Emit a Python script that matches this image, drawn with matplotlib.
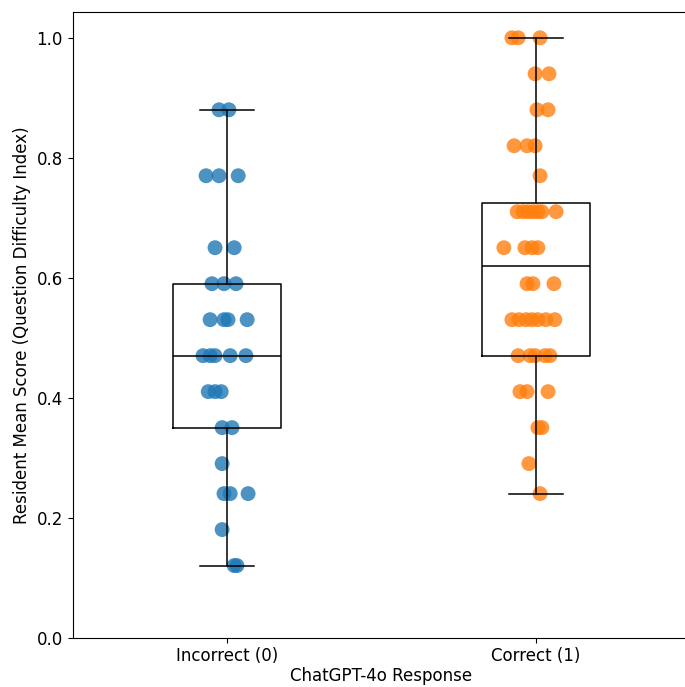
import matplotlib
matplotlib.use("Agg")
import numpy as np
import matplotlib.pyplot as plt

# ---- data ----
categories = ["Incorrect (0)", "Correct (1)"]

incorrect_scores = [0.88, 0.88,
                    0.77, 0.77, 0.77,
                    0.65, 0.65,
                    0.59, 0.59, 0.59,
                    0.53, 0.53, 0.53, 0.53,
                    0.47, 0.47, 0.47, 0.47, 0.47,
                    0.41, 0.41, 0.41,
                    0.35, 0.35,
                    0.29,
                    0.24, 0.24, 0.24,
                    0.18,
                    0.12, 0.12]
# horizontal jitter of each point (category units)
incorrect_jitter = [-0.026, 0.006,
                    -0.068, -0.026, 0.036,
                    -0.039, 0.023,
                    -0.049, -0.010, 0.029,
                    -0.055, -0.010, 0.003, 0.065,
                    -0.078, -0.055, -0.039, 0.010, 0.061,
                    -0.061, -0.039, -0.019,
                    -0.016, 0.016,
                    -0.016,
                    -0.010, 0.010, 0.068,
                    -0.016,
                    0.023, 0.032]

correct_scores = [1.00, 1.00, 1.00,
                  0.94, 0.94,
                  0.88, 0.88,
                  0.82, 0.82, 0.82,
                  0.77,
                  0.71, 0.71, 0.71, 0.71, 0.71, 0.71, 0.71,
                  0.65, 0.65, 0.65, 0.65,
                  0.59, 0.59, 0.59,
                  0.53, 0.53, 0.53, 0.53, 0.53, 0.53, 0.53,
                  0.47, 0.47, 0.47, 0.47, 0.47,
                  0.41, 0.41, 0.41,
                  0.35, 0.35,
                  0.29,
                  0.24]
correct_jitter = [-0.078, -0.058, 0.013,
                  -0.003, 0.042,
                  0.003, 0.039,
                  -0.071, -0.029, -0.003,
                  0.013,
                  -0.061, -0.042, -0.026, -0.010, 0.006, 0.019, 0.065,
                  -0.104, -0.036, -0.013, 0.006,
                  -0.029, -0.010, 0.058,
                  -0.078, -0.055, -0.032, -0.013, 0.006, 0.032, 0.061,
                  -0.058, -0.019, -0.003, 0.029, 0.045,
                  -0.052, -0.029, 0.039,
                  0.006, 0.019,
                  -0.023,
                  0.013]

groups = [incorrect_scores, correct_scores]
jitters = [incorrect_jitter, correct_jitter]
point_colors = ["#1f77b4", "#ff7f0e"]

plt.rcParams["font.size"] = 12

fig = plt.figure(figsize=(6.85, 6.87), dpi=100)
# the reference is cropped on the right: the axes run past the canvas edge
ax = fig.add_axes([0.106, 0.072, 0.902, 0.9105])

for i, (vals, jit) in enumerate(zip(groups, jitters)):
    xs = (i + 1) + np.asarray(jit)
    ax.scatter(xs, vals, s=115, color=point_colors[i], alpha=0.8,
               edgecolors="none", zorder=1)

line = dict(color="black", linewidth=1.1)
ax.boxplot(groups, positions=[1, 2], widths=0.35, whis=(0, 100),
           boxprops=line, whiskerprops=line, capprops=line,
           medianprops=line, showfliers=False)

ax.set_xlim(0.5, 2.5)
ax.set_ylim(0, 1.043)
ax.set_xticks([1, 2])
ax.set_xticklabels(categories)
ax.set_yticks(np.arange(0, 1.01, 0.2))
ax.spines["right"].set_visible(False)
ax.set_xlabel("ChatGPT-4o Response", labelpad=1)
ax.set_ylabel("Resident Mean Score (Question Difficulty Index)")

fig.savefig("out.png", dpi=100)
